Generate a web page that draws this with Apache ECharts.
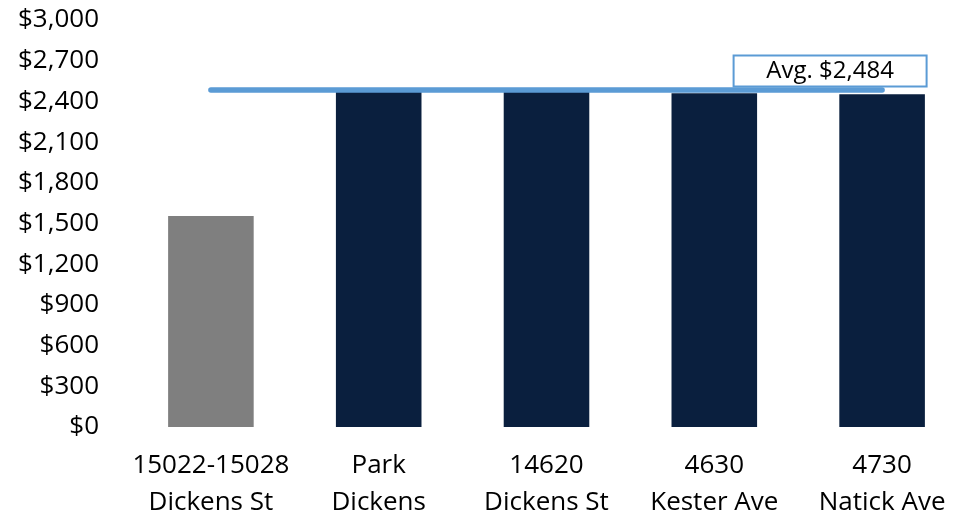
<!DOCTYPE html>
<html>
<head>
<meta charset="utf-8">
<script src="https://cdn.jsdelivr.net/npm/echarts@6/dist/echarts.min.js"></script>
<style>
html,body{margin:0;padding:0;background:#fff;}
#chart{width:966px;height:516px;}
</style>
</head>
<body>
<div id="chart"></div>
<script>
var categories = ['15022-15028\nDickens St', 'Park\nDickens', '14620\nDickens St', '4630\nKester Ave', '4730\nNatick Ave'];
var rentValues = [1555, 2472, 2470, 2460, 2452];
var avgValue = 2484;
var avgLine = [2484, 2484, 2484, 2484, 2484];
var avgLabel = 'Avg. $2,484';
var yTicks = { min: 0, max: 3000, interval: 300 };

var chart = echarts.init(document.getElementById('chart'));
var font = '"Open Sans", "Noto Sans", sans-serif';
chart.setOption({
  animation: false,
  grid: { left: 127, right: 0, top: 20, bottom: 89, containLabel: false, outerBoundsMode: 'none' },
  xAxis: {
    type: 'category',
    data: categories,
    axisLine: { show: false },
    axisTick: { show: false },
    axisLabel: { interval: 0, color: '#000', fontFamily: font, fontSize: 26, lineHeight: 37, margin: 20 }
  },
  yAxis: {
    type: 'value',
    min: yTicks.min, max: yTicks.max, interval: yTicks.interval,
    splitLine: { show: false },
    axisLine: { show: false },
    axisTick: { show: false },
    axisLabel: {
      color: '#000', fontFamily: font, fontSize: 26, margin: 28,
      formatter: function (v) { return '$' + v.toLocaleString('en-US'); }
    }
  },
  series: [
    {
      type: 'bar',
      data: rentValues,
      barWidth: '51%',
      itemStyle: {
        color: function (p) { return p.dataIndex === 0 ? '#7F7F7F' : '#0A1F3E'; }
      },
      z: 2
    },
    {
      type: 'line',
      data: avgLine,
      symbol: 'none',
      lineStyle: { color: '#5B9BD5', width: 5.5, cap: 'round' },
      z: 3,
      markPoint: {
        symbol: 'circle',
        symbolSize: 0,
        itemStyle: { color: 'rgba(0,0,0,0)' },
        label: {
          show: true, position: 'inside', offset: [-52, -19],
          color: '#000', fontFamily: font, fontSize: 24, formatter: avgLabel,
          backgroundColor: '#fff', borderColor: '#5B9BD5', borderWidth: 2,
          width: 191, height: 29, align: 'center', verticalAlign: 'middle', lineHeight: 29
        },
        data: [{ coord: [4, avgValue] }],
        z: 5
      }
    }
  ]
});
</script>
</body>
</html>
